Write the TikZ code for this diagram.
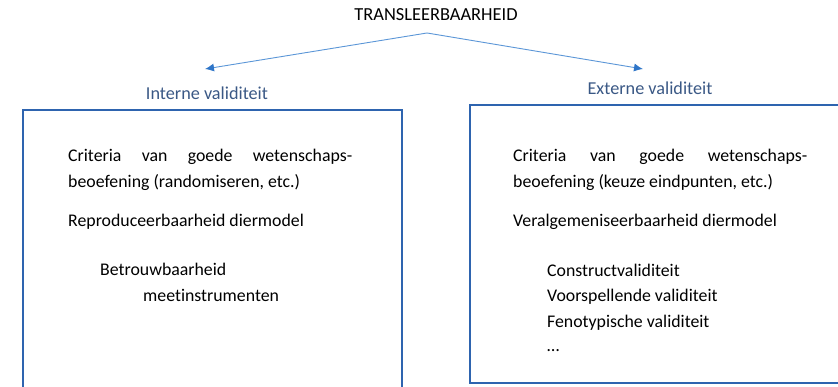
\documentclass[tikz,border=0pt]{standalone}
\usepackage{fontspec}
\setmainfont{Carlito}[Ligatures=NoCommon]
\usetikzlibrary{arrows.meta}
\definecolor{boxblue}{RGB}{46,100,175}
\definecolor{arrowblue}{RGB}{91,150,215}
\definecolor{tipblue}{RGB}{46,117,200}
\definecolor{labelblue}{RGB}{58,88,133}
\tikzset{
  body/.style={anchor=base west, inner sep=0pt, font=\fontsize{17.8}{21}\selectfont},
  lbl/.style={anchor=base, inner sep=0pt, text=labelblue, font=\fontsize{18.2}{21}\selectfont},
  frame/.style={draw=boxblue, line width=1.8pt},
  conn/.style={draw=arrowblue, line width=0.9pt, -{Latex[length=9pt,width=8pt,color=tipblue]}}
}
\begin{document}
\begin{tikzpicture}[x=1pt,y=-1pt]
\useasboundingbox (0,0) rectangle (838,387);
\node[anchor=base, inner sep=0pt, font=\fontsize{18.4}{21}\selectfont] (title) at (436,21) {TRANSLEERBAARHEID};
\coordinate (apex) at (427,33);
\coordinate (ltip) at (205,69);
\coordinate (rtip) at (643,69);
\draw[conn] (apex) -- (ltip);
\draw[conn] (apex) -- (rtip);
\node[lbl] (intl) at (207,100) {Interne validiteit};
\node[lbl] (extl) at (650,95) {Externe validiteit};
\draw[frame] (23,400) -- (23,110) -- (402,110) -- (402,400);
\draw[frame] (850,383) -- (470,383) -- (470,105) -- (850,105);
% left box
\node[body] (l1) at (68,162) {\hbox to 284pt{Criteria\hfill van\hfill goede\hfill wetenschaps-}};
\node[body] (l2) at (68,188) {beoefening (randomiseren, etc.)};
\node[body] (l3) at (68,227) {Reproduceerbaarheid diermodel};
\node[body] (l4) at (100,276) {Betrouwbaarheid};
\node[body] (l5) at (143,302) {meetinstrumenten};
% right box
\node[body] (r1) at (513,162) {\hbox to 294pt{Criteria\hfill van\hfill goede\hfill wetenschaps-}};
\node[body] (r2) at (513,188) {beoefening (keuze eindpunten, etc.)};
\node[body] (r3) at (513,227) {Veralgemeniseerbaarheid diermodel};
\node[body] (r4) at (547,277) {Constructvaliditeit};
\node[body] (r5) at (547,302) {Voorspellende validiteit};
\node[body] (r6) at (547,327) {Fenotypische validiteit};
\node[body] (r7) at (547,352) {\dots};
\end{tikzpicture}
\end{document}
